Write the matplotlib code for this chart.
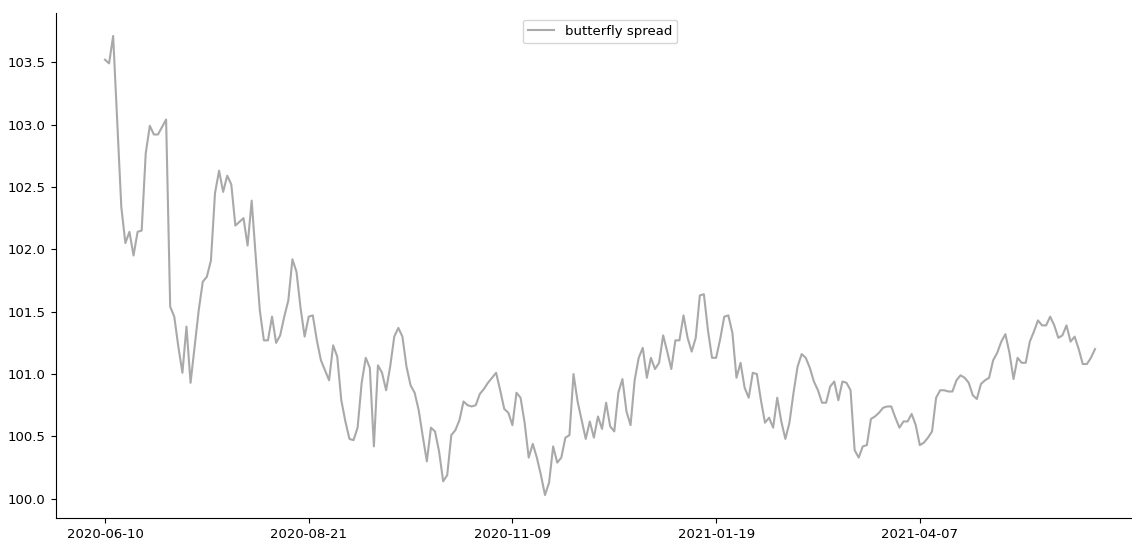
import matplotlib
matplotlib.use("Agg")
import matplotlib.pyplot as plt
import numpy as np

plt.rcParams["font.size"] = 9.5

spread = [
    103.52, 103.49, 103.71, 103.02, 102.34, 102.05, 102.14, 101.95, 102.14, 102.15,
    102.77, 102.99, 102.92, 102.92, 102.98, 103.04, 101.54, 101.46, 101.22, 101.01,
    101.38, 100.93, 101.22, 101.51, 101.74, 101.78, 101.91, 102.45, 102.63, 102.46,
    102.59, 102.52, 102.19, 102.22, 102.25, 102.03, 102.39, 101.94, 101.51, 101.27,
    101.27, 101.46, 101.25, 101.31, 101.46, 101.59, 101.92, 101.82, 101.53, 101.30,
    101.46, 101.47, 101.27, 101.11, 101.03, 100.95, 101.23, 101.14, 100.79, 100.62,
    100.48, 100.47, 100.57, 100.93, 101.13, 101.05, 100.42, 101.07, 101.01, 100.87,
    101.06, 101.30, 101.37, 101.30, 101.06, 100.91, 100.85, 100.71, 100.50, 100.30,
    100.57, 100.54, 100.38, 100.14, 100.19, 100.51, 100.55, 100.63, 100.78, 100.75,
    100.74, 100.75, 100.84, 100.88, 100.93, 100.97, 101.01, 100.87, 100.72, 100.69,
    100.59, 100.85, 100.81, 100.61, 100.33, 100.44, 100.33, 100.19, 100.03, 100.13,
    100.42, 100.29, 100.33, 100.49, 100.51, 101.00, 100.78, 100.63, 100.48, 100.62,
    100.49, 100.66, 100.56, 100.77, 100.58, 100.54, 100.85, 100.96, 100.70, 100.59,
    100.95, 101.13, 101.21, 100.97, 101.13, 101.04, 101.09, 101.31, 101.18, 101.04,
    101.27, 101.27, 101.47, 101.29, 101.18, 101.29, 101.63, 101.64, 101.35, 101.13,
    101.13, 101.28, 101.46, 101.47, 101.33, 100.97, 101.09, 100.89, 100.81, 101.01,
    101.00, 100.79, 100.61, 100.65, 100.57, 100.81, 100.62, 100.48, 100.61, 100.85,
    101.06, 101.16, 101.13, 101.05, 100.94, 100.87, 100.77, 100.77, 100.90, 100.94,
    100.79, 100.94, 100.93, 100.87, 100.39, 100.33, 100.42, 100.43, 100.64, 100.66,
    100.69, 100.73, 100.74, 100.74, 100.65, 100.57, 100.62, 100.62, 100.68, 100.59,
    100.43, 100.45, 100.49, 100.54, 100.81, 100.87, 100.87, 100.86, 100.86, 100.95,
    100.99, 100.97, 100.93, 100.83, 100.80, 100.92, 100.95, 100.97, 101.11, 101.17,
    101.26, 101.32, 101.17, 100.96, 101.13, 101.09, 101.09, 101.26, 101.34, 101.43,
    101.39, 101.39, 101.46, 101.39, 101.29, 101.31, 101.39, 101.26, 101.30, 101.20,
    101.08, 101.08, 101.13, 101.20,
]

tick_index = [0, 50, 100, 150, 200]
tick_labels = ["2020-06-10", "2020-08-21", "2020-11-09", "2021-01-19", "2021-04-07"]

fig = plt.figure(figsize=(11.32, 5.43), dpi=100)
ax = fig.add_axes([55.5 / 1132, 25 / 543, 1089 / 1132, 505 / 543])

x = np.arange(len(spread))
ax.plot(x, spread, color="darkgray", linewidth=1.5, label="butterfly spread")

ax.set_xticks(tick_index)
ax.set_xticklabels(tick_labels)
ax.spines["top"].set_visible(False)
ax.spines["right"].set_visible(False)
ax.legend(loc="upper center")

fig.savefig("out.png", dpi=100)
